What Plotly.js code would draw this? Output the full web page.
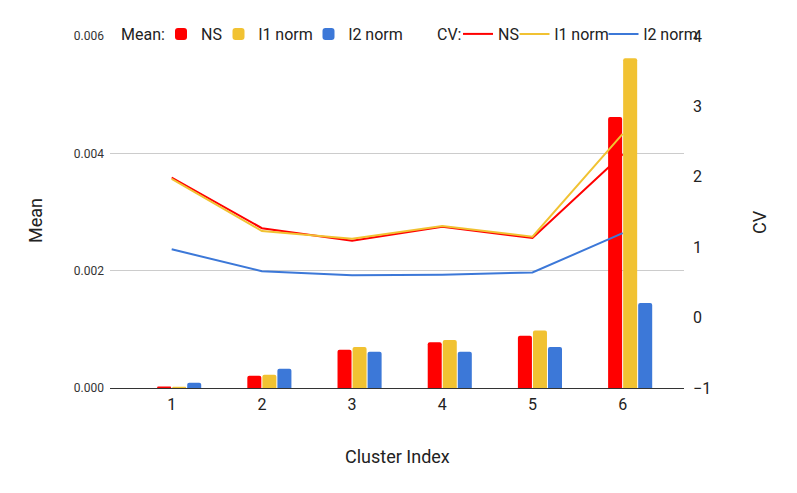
<!DOCTYPE html>
<html>
<head>
<meta charset="utf-8">
<script src="https://cdn.plot.ly/plotly-3.0.1.min.js"></script>
<style>
  html, body { margin: 0; padding: 0; background: #fff; }
  #plot { width: 797px; height: 493px; }
</style>
</head>
<body>
<div id="plot"></div>
<script>
// cluster labels on the x axis
var clusters = ["1", "2", "3", "4", "5", "6"];

// Mean (left axis, bars)
var meanNS = [0.000027, 0.00021, 0.00065, 0.00078, 0.00089, 0.00462];
var meanL1 = [0.000022, 0.000227, 0.0007, 0.00082, 0.00098, 0.00562];
var meanL2 = [0.00009, 0.00033, 0.00062, 0.00062, 0.0007, 0.00145];

// CV (right axis, lines)
var cvNS = [1.99, 1.27, 1.09, 1.29, 1.13, 2.32];
var cvL1 = [1.97, 1.23, 1.12, 1.30, 1.15, 2.61];
var cvL2 = [0.97, 0.66, 0.60, 0.61, 0.64, 1.20];

var red = "#ff0000";
var yellow = "#f1c232";
var blue = "#3c78d8";

var font = "Roboto, Arial, sans-serif";

function bar(name, y, color, leg) {
  return {
    type: "bar", x: clusters, y: y, name: name,
    marker: { color: color, cornerradius: 2 },
    xaxis: "x", yaxis: "y", legend: leg
  };
}

function line(name, y, color, leg) {
  return {
    type: "scatter", mode: "lines", x: clusters, y: y, name: name,
    line: { color: color, width: 2 },
    xaxis: "x2", yaxis: "y2", legend: leg
  };
}

var data = [
  bar("NS", meanNS, red, "legend"),
  bar("l1 norm", meanL1, yellow, "legend2"),
  bar("l2 norm", meanL2, blue, "legend3"),
  line("NS", cvNS, red, "legend4"),
  line("l1 norm", cvL1, yellow, "legend5"),
  line("l2 norm", cvL2, blue, "legend6")
];

// one small legend per entry so each can sit where the reference has it
function leg(x) {
  return {
    orientation: "h", xref: "container", yref: "container",
    x: x / 797, xanchor: "left", y: 1 - 34 / 493, yanchor: "middle",
    bgcolor: "rgba(0,0,0,0)", borderwidth: 0,
    font: { family: font, size: 16, color: "#222" }
  };
}

// text placed in pixel terms of the plot area (110..684 x 36..388)
function label(text, px, py, size, anchor, angle) {
  return {
    text: text, xref: "paper", yref: "paper",
    x: (px - 110) / 574, y: (388 - py) / 352,
    xanchor: anchor, yanchor: "middle",
    textangle: angle || 0, showarrow: false, borderpad: 0,
    font: { family: font, size: size, color: "#222" }
  };
}

var layout = {
  width: 797, height: 493,
  margin: { l: 110, r: 113, t: 36, b: 105, autoexpand: false },
  paper_bgcolor: "#fff", plot_bgcolor: "#fff",
  font: { family: font, color: "#222" },
  barmode: "group", bargap: 0.5, bargroupgap: 0.067,
  showlegend: true,
  legend: leg(161),
  legend2: leg(218.5),
  legend3: leg(308.5),
  legend4: leg(458),
  legend5: leg(514.5),
  legend6: leg(603.5),
  annotations: [
    label("Mean:", 120, 34, 16, "left"),
    label("CV:", 436, 34, 16, "left"),
    label("Cluster Index", 397.5, 456.5, 18, "center"),
    label("Mean", 35, 221, 18, "center", -90),
    label("CV", 760, 222, 18, "center", -90)
  ],
  // bar axis: groups sit a little right of the category ticks, as in the reference
  xaxis: {
    type: "category", range: [-0.767, 5.597],
    showgrid: false, zeroline: false, showticklabels: false,
    showline: true, linecolor: "#333", linewidth: 1, ticks: ""
  },
  // line axis carries the category labels
  xaxis2: {
    type: "category", overlaying: "x", side: "bottom", range: [-0.684, 5.68],
    showgrid: false, zeroline: false, showline: false,
    ticks: "", ticklabelstandoff: 5,
    tickfont: { family: font, size: 16, color: "#222" }
  },
  yaxis: {
    range: [0, 0.006], dtick: 0.002, tick0: 0, tickformat: ".3f",
    showgrid: true, gridcolor: "#cccccc", gridwidth: 1,
    zeroline: false, ticks: "", ticklabelstandoff: 5,
    tickfont: { family: font, size: 12, color: "#333" }
  },
  yaxis2: {
    overlaying: "y", side: "right", range: [-1, 4], dtick: 1, tick0: 0,
    showgrid: false, zeroline: false, ticks: "", ticklabelstandoff: 8,
    tickfont: { family: font, size: 16, color: "#222" }
  }
};

Plotly.newPlot("plot", data, layout, { displayModeBar: false, staticPlot: true });
</script>
</body>
</html>
